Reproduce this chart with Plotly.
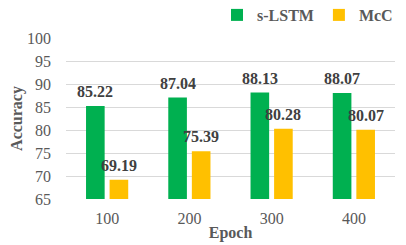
import plotly.graph_objects as go

epochs = ["100", "200", "300", "400"]
slstm = [85.22, 87.04, 88.13, 88.07]
mcc = [69.19, 75.39, 80.28, 80.07]
yticks = [65, 70, 75, 80, 85, 90, 95, 100]

GREEN = "#00B050"
YELLOW = "#FFC000"
FONT = "Liberation Serif"

# page body has an 8px default margin; compensate
W, H = 398, 237
SLOT = 23.5  # px half-group offset for labels

fig = go.Figure()
for name, vals, col in [("s-LSTM", slstm, GREEN), ("McC", mcc, YELLOW)]:
    fig.add_trace(go.Bar(name=name, x=epochs, y=vals, marker_color=col,
                         marker_line_width=0))

for vals, sh in [(slstm, -SLOT / 2), (mcc, SLOT / 2)]:
    for i, v in enumerate(vals):
        fig.add_annotation(x=i, y=v, xref="x", yref="y", text=f"<b>{v:.2f}</b>",
                           showarrow=False, xshift=sh, yanchor="bottom", yshift=4,
                           font=dict(family=FONT, size=16, color="#404040"))

fig.update_layout(
    width=W, height=H,
    margin=dict(l=58, r=11, t=30, b=46, autoexpand=False),
    paper_bgcolor="white", plot_bgcolor="white",
    barmode="group", bargap=0.427, bargroupgap=0.21,
    font=dict(family=FONT, size=16, color="#595959"),
    legend=dict(orientation="h", x=(398 - 8) / W, xref="container", xanchor="right",
                y=1 - (15 - 8) / H, yref="container", yanchor="middle",
                font=dict(family=FONT, size=16, color="#595959", weight="bold"),
                itemwidth=30, traceorder="normal", bgcolor="rgba(0,0,0,0)"),
    xaxis=dict(type="category", categoryorder="array", categoryarray=epochs,
               range=[-0.5, len(epochs) - 0.5],
               title=dict(text="<b>Epoch</b>", standoff=0,
                          font=dict(family=FONT, size=16, color="#595959")),
               automargin=False,
               showline=False, ticks="", tickfont=dict(family=FONT, size=16, color="#595959"),
               ticklabelstandoff=8),
    yaxis=dict(title=dict(text="<b>Accuracy</b>", standoff=0,
                          font=dict(family=FONT, size=16, color="#595959")),
               automargin=False,
               range=[65, 100], tickvals=yticks, showgrid=True, gridcolor="#D9D9D9",
               gridwidth=1, zeroline=False, showline=False, ticks="",
               tickfont=dict(family=FONT, size=16, color="#595959"), ticklabelstandoff=14),
)

fig.write_html("out.html")
